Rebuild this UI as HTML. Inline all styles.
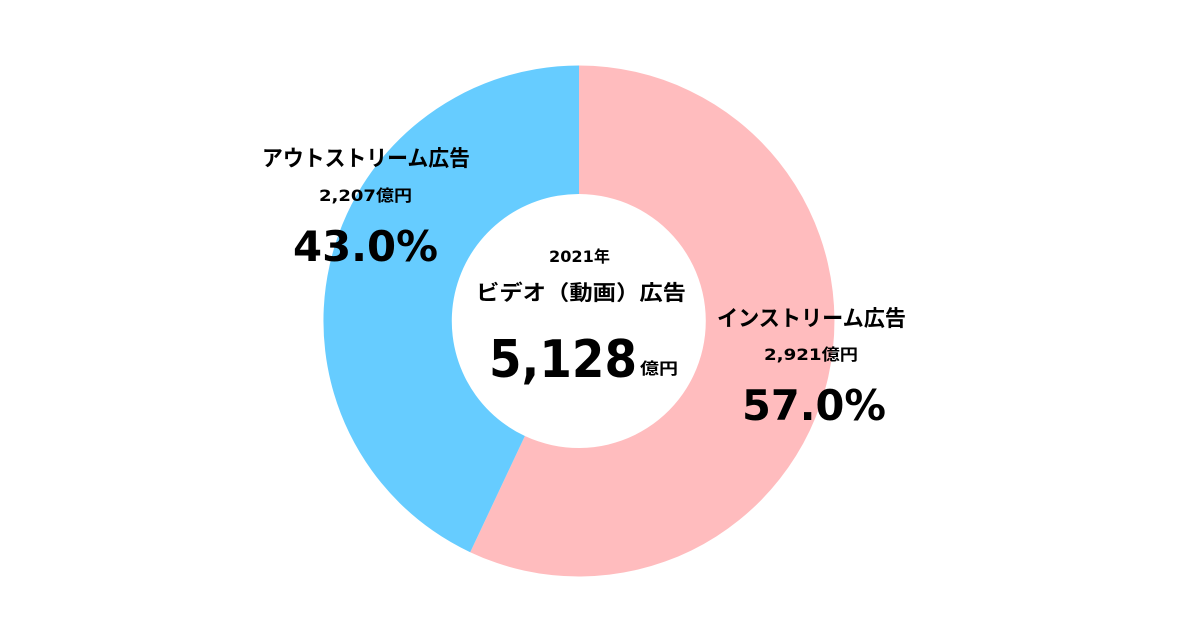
<!DOCTYPE html>
<html><head><meta charset="utf-8"><style>
html,body{margin:0;padding:0;background:#fff;}
svg text{font-family:"DejaVu Sans","Noto Sans CJK JP",sans-serif;font-weight:bold;fill:#000;}
svg text.jp{font-family:"Liberation Sans","Noto Sans CJK JP",sans-serif;}
</style></head><body>
<svg width="1201" height="637" viewBox="0 0 1201 637" xmlns="http://www.w3.org/2000/svg">
<rect width="1201" height="637" fill="#fff"/>
<path d="M579,65.5 A255.5,255.5 0 1 1 470.2,552.2 L524.9,436.0 A127,127 0 1 0 579,194 Z" fill="#FFBCBE"/>
<path d="M470.2,552.2 A255.5,255.5 0 0 1 579,65.5 L579,194 A127,127 0 0 0 524.9,436.0 Z" fill="#66CCFF"/>
<text class="jp" x="262" y="166" font-size="22" textLength="208" lengthAdjust="spacingAndGlyphs">アウトストリーム広告</text>
<text x="319" y="201" font-size="16" textLength="93" lengthAdjust="spacingAndGlyphs">2,207億円</text>
<text x="293" y="261" font-size="42" textLength="145" lengthAdjust="spacingAndGlyphs">43.0%</text>
<text x="549" y="262" font-size="16" textLength="61" lengthAdjust="spacingAndGlyphs">2021年</text>
<text class="jp" x="476" y="300" font-size="21" textLength="210" lengthAdjust="spacingAndGlyphs">ビデオ（動画）広告</text>
<text x="489" y="377" font-size="52" textLength="148" lengthAdjust="spacingAndGlyphs">5,128</text>
<text class="jp" x="640" y="374" font-size="16" textLength="38" lengthAdjust="spacingAndGlyphs">億円</text>
<text class="jp" x="717" y="326" font-size="22" textLength="189" lengthAdjust="spacingAndGlyphs">インストリーム広告</text>
<text x="764" y="360" font-size="16" textLength="94" lengthAdjust="spacingAndGlyphs">2,921億円</text>
<text x="742" y="420" font-size="42" textLength="144" lengthAdjust="spacingAndGlyphs">57.0%</text>
</svg>
</body></html>
